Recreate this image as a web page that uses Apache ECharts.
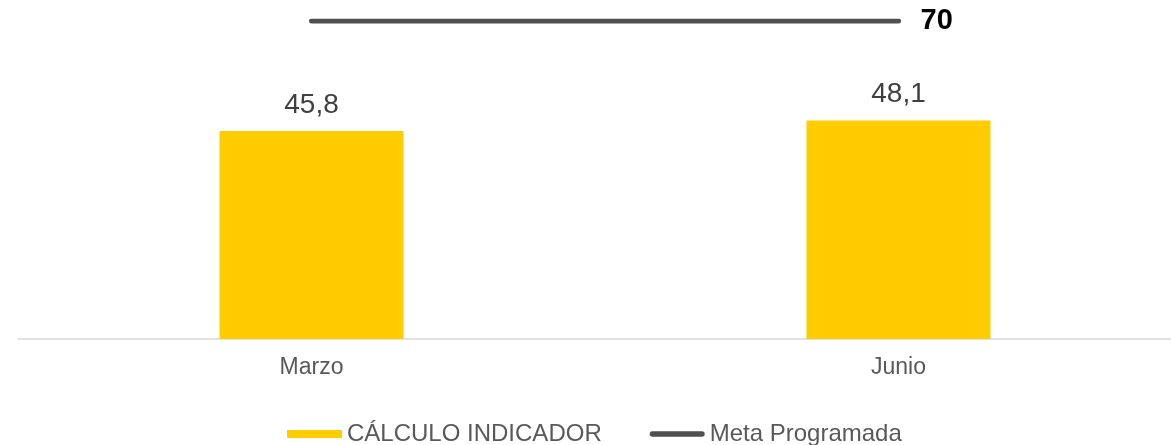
<!DOCTYPE html>
<html>
<head>
<meta charset="utf-8">
<script src="https://cdn.jsdelivr.net/npm/echarts@6/dist/echarts.min.js"></script>
<style>
  html, body { margin: 0; padding: 0; background: #fff; }
  #chart { width: 1171px; height: 445px; }
</style>
</head>
<body>
<div id="chart"></div>
<script>
// Datos del gráfico
const periodos = ['Marzo', 'Junio'];
const calculoIndicador = [45.8, 48.1];
const metaProgramada = [70, 70];

const fuente = '"Liberation Sans", Arial, sans-serif';

// Icono de línea gruesa con extremos redondeados para la leyenda
const iconoLinea = 'path://M5,0 H95 A5,5 0 0 1 95,10 H5 A5,5 0 0 1 5,0 Z';

const chart = echarts.init(document.getElementById('chart'));

const option = {
    animation: false,
    grid: { left: 18, top: 21, width: 1174, bottom: 106, outerBoundsMode: 'none', containLabel: false },
    legend: {
        left: 287,
        top: 422,
        padding: 0,
        itemWidth: 55,
        itemHeight: 8,
        itemGap: 48,
        textStyle: { color: '#595959', fontSize: 24, fontFamily: fuente },
        data: [
            { name: 'CÁLCULO INDICADOR', icon: 'rect' },
            { name: 'Meta Programada', icon: iconoLinea, itemStyle: { color: '#505050' } }
        ]
    },
    xAxis: {
        type: 'category',
        data: periodos,
        axisLine: { lineStyle: { color: '#d9d9d9', width: 1.5 } },
        axisTick: { show: false },
        axisLabel: { color: '#595959', fontSize: 23, fontFamily: fuente, margin: 17 }
    },
    yAxis: {
        type: 'value',
        min: 0,
        max: 70,
        show: false,
        splitLine: { show: false }
    },
    series: [
        {
            name: 'CÁLCULO INDICADOR',
            type: 'bar',
            data: calculoIndicador,
            barWidth: 184,
            itemStyle: { color: '#ffcc00' },
            label: {
                show: true,
                position: 'top',
                distance: 12,
                color: '#404040',
                fontSize: 28,
                fontFamily: fuente,
                formatter: p => String(p.value).replace('.', ',')
            }
        },
        {
            name: 'Meta Programada',
            type: 'line',
            data: metaProgramada,
            symbol: 'none',
            lineStyle: { color: '#505050', width: 5, cap: 'round' },
            itemStyle: { color: '#505050' },
            endLabel: {
                show: true,
                color: '#000',
                fontWeight: 'bold',
                fontSize: 29,
                fontFamily: fuente,
                distance: 22,
                formatter: p => p.value
            }
        }
    ]
};

chart.setOption(option);
</script>
</body>
</html>
